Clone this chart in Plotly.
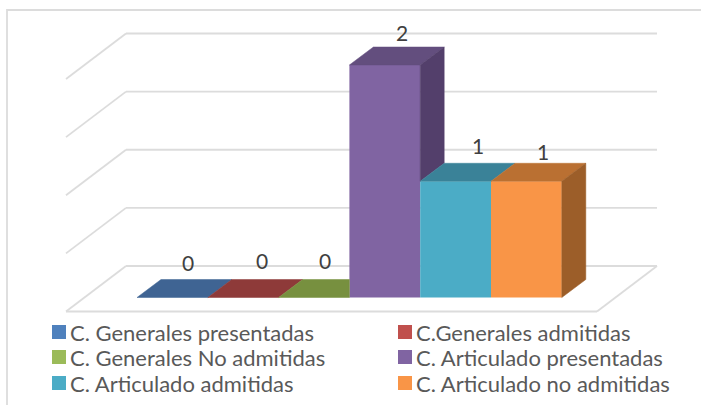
import plotly.graph_objects as go

categories = ["C. Generales presentadas", "C.Generales admitidas", "C. Generales No admitidas",
              "C. Articulado presentadas", "C. Articulado admitidas", "C. Articulado no admitidas"]
values = [0, 0, 0, 2, 1, 1]
grid_values = [0, 0.5, 1, 1.5, 2]
front_colors = ["#4F81BD", "#C0504D", "#9BBB59", "#8064A2", "#4BACC6", "#F99547"]
top_colors = ["#3F6493", "#8E3A39", "#77903F", "#634E7E", "#3A8298", "#BA7032"]
side_colors = ["#355479", "#76302F", "#627733", "#533F6B", "#317084", "#9C5E29"]
label_shift_x = [15.5, 19, 11, 17, 22.5, 17]
label_shift_y = [35.5, 37.5, 37.5, 33, 36, 30]
legend_col_x = [52, 398]
legend_row_y = [332, 357, 383]

W, H = 701, 405
UX, UY = 70.8, 116.25      # pixels per bar slot / per value unit
X0, Y0 = 137.0, 297.5      # pixel of the first bar's left edge / of value 0
DX, DY = 24 / UX, 18 / UY  # oblique depth of a bar
FX, FY = 60 / UX, 45.5 / UY  # oblique depth of the floor
FLOOR_F = -14 / UY         # front floor edge
LEFT = (66 - X0) / UX - 0.5
RIGHT = (597 - X0) / UX - 0.5
GRID = "#DCDCDC"

fig = go.Figure()

# front faces
for i, (c, v) in enumerate(zip(categories, values)):
    fig.add_bar(x=[i], y=[v], width=1, name=c, marker=dict(color=front_colors[i], line_width=0),
                showlegend=False, hovertemplate=c + ": %{y}<extra></extra>")


def poly(xs, ys, color):
    fig.add_scatter(x=xs, y=ys, mode="lines", fill="toself", fillcolor=color,
                    line=dict(color=color, width=0.5), showlegend=False, hoverinfo="skip")


# top and side faces, hidden parts left out
for i, v in enumerate(values):
    nxt = values[i + 1] if i + 1 < len(values) else 0
    l, r = i - 0.5, i + 0.5
    back_r = r if nxt > v else r + DX
    poly([l, r, back_r, l + DX, l], [v, v, v + DY, v + DY, v], top_colors[i])
    if v > nxt:
        poly([r, r + DX, r + DX, r, r], [v, v + DY, nxt + DY, nxt, v], side_colors[i])

# walls and floor, below the traces
shapes = [dict(type="rect", xref="paper", yref="paper", x0=7 / W, x1=1.01, y0=-0.01, y1=1 - 10 / H,
               line=dict(color=GRID, width=1.8), fillcolor="rgba(0,0,0,0)", layer="below")]


def seg(x0, y0, x1, y1):
    shapes.append(dict(type="line", xref="x", yref="y", x0=x0, y0=y0, x1=x1, y1=y1,
                       line=dict(color=GRID, width=1.8), layer="below"))


for g in grid_values:
    yf = FLOOR_F + g
    seg(LEFT, yf, LEFT + FX, yf + FY)
    seg(LEFT + FX, yf + FY, RIGHT + FX, yf + FY)
seg(LEFT, FLOOR_F, RIGHT, FLOOR_F)
seg(RIGHT, FLOOR_F, RIGHT + FX, FLOOR_F + FY)

# data labels
annotations = [dict(x=i, y=v, text=str(v), showarrow=False, xshift=label_shift_x[i], yshift=label_shift_y[i],
                    font=dict(family="Lato", size=21, color="#404040"))
               for i, v in enumerate(values)]

# legend
for i, c in enumerate(categories):
    px = legend_col_x[i % 2]
    py = legend_row_y[i // 2]
    shapes.append(dict(type="rect", xref="paper", yref="paper", x0=px / W, x1=(px + 14) / W,
                       y0=1 - (py + 7) / H, y1=1 - (py - 7) / H, line_width=0,
                       fillcolor=front_colors[i]))
    annotations.append(dict(xref="paper", yref="paper", x=(px + 16) / W, y=1 - py / H, xanchor="left",
                            yanchor="middle", text=c, showarrow=False,
                            font=dict(family="Lato", size=22, color="#595959")))

fig.update_layout(
    width=W, height=H, margin=dict(l=0, r=0, t=0, b=0), autosize=False,
    paper_bgcolor="white", plot_bgcolor="white", showlegend=False, barmode="overlay",
    xaxis=dict(visible=False, range=[-0.5 - X0 / UX, -0.5 + (W - X0) / UX], fixedrange=True),
    yaxis=dict(visible=False, range=[(Y0 - H) / UY, Y0 / UY], fixedrange=True),
    shapes=shapes, annotations=annotations,
)
fig.write_html("out.html", config={"displayModeBar": False},
               post_script="document.body.style.margin='0';document.body.style.overflow='hidden';")
